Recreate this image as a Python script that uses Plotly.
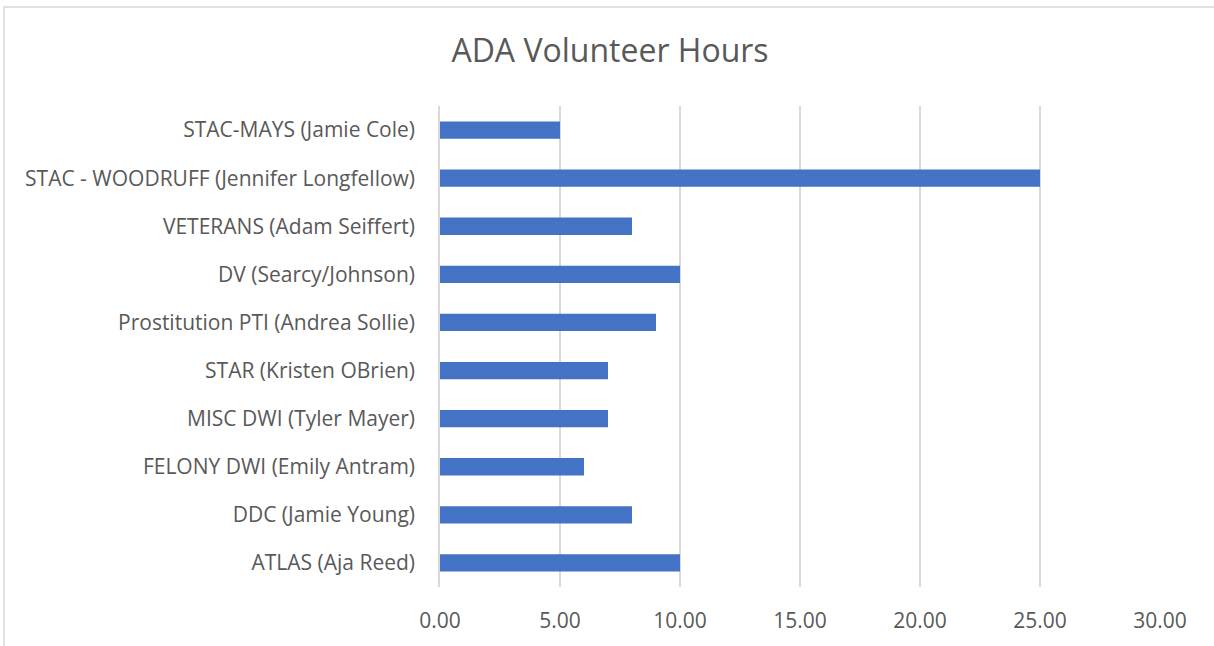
import plotly.graph_objects as go

categories = [
    "ATLAS (Aja Reed)",
    "DDC (Jamie Young)",
    "FELONY DWI (Emily Antram)",
    "MISC DWI (Tyler Mayer)",
    "STAR (Kristen OBrien)",
    "Prostitution PTI (Andrea Sollie)",
    "DV (Searcy/Johnson)",
    "VETERANS (Adam Seiffert)",
    "STAC - WOODRUFF (Jennifer Longfellow)",
    "STAC-MAYS (Jamie Cole)",
]
hours = [10, 8, 6, 7, 7, 9, 10, 8, 25, 5]
x_ticks = [0, 5, 10, 15, 20, 25, 30]

W, H = 1214, 646
L, R, T, B = 440, 54, 106, 59
pw, ph = W - L - R, H - T - B

fig = go.Figure(go.Bar(
    y=categories, x=hours, orientation="h",
    marker=dict(color="#4472C4", line=dict(width=0)),
))

font_fam = "Open Sans, Liberation Sans, sans-serif"
fig.update_layout(
    width=W, height=H,
    margin=dict(l=L, r=R, t=T, b=B),
    paper_bgcolor="white", plot_bgcolor="white",
    bargap=0.64,
    showlegend=False,
    title=dict(text="ADA Volunteer Hours", x=610 / W,
               xanchor="center", y=1 - 51 / H, yanchor="middle",
               font=dict(family=font_fam, size=32, color="#595959")),
    font=dict(family=font_fam, size=21, color="#595959"),
    xaxis=dict(range=[0, 30], tickvals=x_ticks, tickformat=".2f",
               showgrid=True, gridcolor="#d9d9d9", gridwidth=1.5,
               zeroline=False, showline=False,
               ticks="outside", ticklen=15, tickcolor="rgba(0,0,0,0)"),
    yaxis=dict(categoryorder="array", categoryarray=categories,
               showgrid=False, zeroline=False,
               showline=True, linecolor="#d9d9d9", linewidth=1.5,
               ticks="outside", ticklen=19, tickcolor="rgba(0,0,0,0)"),
    shapes=[dict(type="rect", xref="paper", yref="paper",
                 x0=(4 - L) / pw, x1=(W + 5 - L) / pw,
                 y0=-(H + 5 - T - ph) / ph, y1=1 + (T - 7) / ph,
                 line=dict(color="#d9d9d9", width=1.5), fillcolor="rgba(0,0,0,0)",
                 layer="below")],
)

fig.write_html("out.html", config={"displayModeBar": False},
               post_script="document.body.style.margin='0';")
